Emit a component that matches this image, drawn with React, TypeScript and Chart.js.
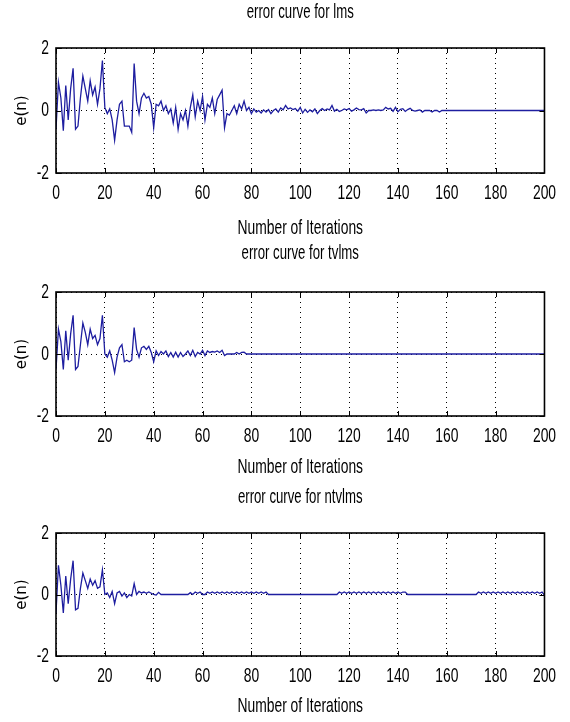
import React, { useEffect, useRef } from 'react';
import { Chart, registerables } from 'chart.js';

Chart.register(...registerables);

const iterations: number[] = Array.from({ length: 201 }, (_, i) => i);
const xTickValues = [0, 20, 40, 60, 80, 100, 120, 140, 160, 180, 200];
const yTickValues = [-2, 0, 2];

const titles = ['error curve for lms', 'error curve for tvlms', 'error curve for ntvlms'];
const xAxisLabel = 'Number of Iterations';
const yAxisLabel = 'e(n)';

const lmsError = [
  -0.6, 0.9, 0.4, -0.65, 0.8, -0.3, 0.7, 1.35, -0.6, -0.5,
  0.4, 1.1, 0.7, 0.3, 0.95, 0.5, 0.75, 0.2, 0.7, 1.6,
  0.1, -0.1, 0.05, -0.3, -0.95, -0.3, 0.2, 0.3, -0.5, -0.5,
  -0.5, -0.7, 1.5, 0.3, -0.1, 0.4, 0.55, 0.4, 0.45, 0.2,
  -0.55, 0.2, 0.15, 0.3, 0.0, 0.15, -0.1, 0.05, -0.4, 0.1,
  -0.6, -0.1, -0.3, 0.0, -0.5, 0.1, 0.5, -0.2, 0.3, 0.0,
  0.45, -0.3, 0.2, 0.1, 0.4, -0.1, 0.35, 0.5, 0.65, -0.55,
  -0.1, -0.15, 0.0, 0.15, -0.1, 0.2, 0.05, 0.3, 0.0, 0.1,
  -0.1, 0.05, -0.05, 0.0, -0.08, 0.02, -0.05, 0.03, -0.1, 0.0,
  0.05, -0.05, 0.08, 0.02, 0.16, 0.05, 0.08, 0.03, 0.06, -0.02,
  0.1, -0.08, 0.04, -0.06, 0.02, -0.04, 0.05, -0.1, 0.0, 0.06,
  0.0, 0.05, 0.02, 0.16, -0.02, 0.04, -0.03, 0.0, 0.05, 0.02,
  0.06, -0.02, 0.02, 0.08, 0.03, 0.02, 0.06, -0.08, 0.0, 0.0,
  0.02, 0.0, 0.02, 0.0, 0.02, 0.1, 0.05, 0.07, -0.03, 0.1,
  -0.04, 0.04, 0.06, -0.03, 0.03, 0.07, 0.0, -0.02, 0.0, 0.02,
  -0.05, 0.0, 0.0, 0.0, -0.05, 0.0, 0.0, -0.05, 0, 0,
  0, 0, 0, 0, 0, 0, 0, 0, 0, 0,
  0, 0, 0, 0, 0, 0, 0, 0, 0, 0,
  0, 0, 0, 0, 0, 0, 0, 0, 0, 0,
  0, 0, 0, 0, 0, 0, 0, 0, 0, 0,
  0,
];

const tvlmsError = [
  -0.5, 0.8, 0.4, -0.5, 0.75, -0.2, 0.65, 1.25, -0.5, -0.4,
  0.3, 1.0, 0.7, 0.3, 0.8, 0.5, 0.6, 0.3, 0.5, 1.25,
  0.0, -0.1, 0.1, -0.2, -0.6, -0.1, 0.2, 0.3, -0.25, -0.2,
  -0.25, -0.2, 0.85, 0.15, -0.1, 0.2, 0.25, 0.15, 0.25, 0.05,
  -0.25, 0.1, -0.05, 0.08, 0.0, 0.1, -0.08, 0.05, -0.1, 0.06,
  -0.1, 0.05, -0.08, 0.0, 0.1, -0.05, 0.12, -0.08, 0.05, 0.0,
  0.12, -0.05, 0.1, 0.05, 0.08, 0.06, 0.1, 0.05, 0.12, -0.05,
  0.0, 0.0, 0.0, 0.0, 0.05, 0.0, 0.05, 0.06, 0.0, 0,
  0, 0, 0, 0, 0, 0, 0, 0, 0, 0,
  0, 0, 0, 0, 0, 0, 0, 0, 0, 0,
  0, 0, 0, 0, 0, 0, 0, 0, 0, 0,
  0, 0, 0, 0, 0, 0, 0, 0, 0, 0,
  0, 0, 0, 0, 0, 0, 0, 0, 0, 0,
  0, 0, 0, 0, 0, 0, 0, 0, 0, 0,
  0, 0, 0, 0, 0, 0, 0, 0, 0, 0,
  0, 0, 0, 0, 0, 0, 0, 0, 0, 0,
  0, 0, 0, 0, 0, 0, 0, 0, 0, 0,
  0, 0, 0, 0, 0, 0, 0, 0, 0, 0,
  0, 0, 0, 0, 0, 0, 0, 0, 0, 0,
  0, 0, 0, 0, 0, 0, 0, 0, 0, 0,
  0,
];

const ntvlmsError = [
  -0.6, 0.95, 0.3, -0.6, 0.6, -0.3, 0.5, 1.1, -0.5, -0.45,
  0.2, 0.7, 0.45, 0.2, 0.5, 0.3, 0.45, 0.2, 0.25, 0.8,
  0.0, 0.05, -0.1, 0.1, -0.3, 0.05, 0.1, -0.05, 0.05, -0.1,
  0.0, -0.05, 0.35, 0.0, 0.1, 0.05, 0.08, 0.04, 0.08, 0.04,
  0.0, -0.02, 0.07, 0, 0, 0, 0, 0, 0, 0,
  0, 0, 0, 0, 0, 0.06, 0.0, 0.08, 0.04, 0.08,
  0.0, 0.0, 0.08, 0.04, 0.08, 0.04, 0.08, 0.04, 0.08, 0.04,
  0.08, 0.04, 0.08, 0.04, 0.08, 0.04, 0.08, 0.04, 0.08, 0.04,
  0.08, 0.04, 0.08, 0.04, 0.08, 0.04, 0.08, 0, 0, 0,
  0, 0, 0, 0, 0, 0, 0, 0, 0, 0,
  0, 0, 0, 0, 0, 0, 0, 0, 0, 0,
  0, 0, 0, 0, 0, 0, 0.08, 0.04, 0.08, 0.04,
  0.08, 0.04, 0.08, 0.04, 0.08, 0.04, 0.08, 0.04, 0.08, 0.04,
  0.08, 0.04, 0.08, 0.04, 0.08, 0.04, 0.08, 0.04, 0.08, 0.04,
  0.08, 0.04, 0.08, 0.08, 0, 0, 0, 0, 0, 0,
  0, 0, 0, 0, 0, 0, 0, 0, 0, 0,
  0, 0, 0, 0, 0, 0, 0, 0, 0, 0,
  0, 0, 0, 0.08, 0.04, 0.08, 0.04, 0.08, 0.04, 0.08,
  0.04, 0.08, 0.04, 0.08, 0.04, 0.08, 0.04, 0.08, 0.04, 0.08,
  0.04, 0.08, 0.04, 0.08, 0.04, 0.08, 0.04, 0.08, 0.04, 0.08,
  -0.02,
];

const seriesList = [lmsError, tvlmsError, ntvlmsError];

const FONT = "'Liberation Sans', Arial, sans-serif";
const TEXT_SQUEEZE = 0.66;
const LINE_COLOR = '#1e1ea0';

type Panel = { top: number; height: number; boxH: number; titleY: number; xLabelY: number };
const panels: Panel[] = [
  { top: 0, height: 240, boxH: 125, titleY: 12, xLabelY: 228 },
  { top: 244, height: 240, boxH: 124, titleY: 9, xLabelY: 223 },
  { top: 485, height: 237, boxH: 123, titleY: 12, xLabelY: 221 },
];
const BOX_TOP = 48;
const BOX_LEFT = 56;
const BOX_RIGHT = 548;

// Chart.js draws its own labels; this narrows the glyphs horizontally (MATLAB-style narrow text)
const narrowTextPlugin = {
  id: 'narrowText',
  beforeDraw(chart: any) {
    const ctx = chart.ctx as any;
    if (ctx.__narrowPatched) return;
    ctx.__narrowPatched = true;
    const orig = ctx.fillText.bind(ctx);
    ctx.fillText = (text: string, x: number, y: number, maxWidth?: number) => {
      if (!String(ctx.font).includes('Liberation')) {
        if (maxWidth === undefined) orig(text, x, y);
        else orig(text, x, y, maxWidth);
        return;
      }
      ctx.save();
      ctx.translate(x, y);
      ctx.scale(TEXT_SQUEEZE, 1);
      orig(text, 0, 0);
      ctx.restore();
    };
  },
};

const framePlugin = {
  id: 'frame',
  afterDatasetsDraw(chart: any) {
    const { ctx, chartArea: a, scales } = chart;
    ctx.save();
    ctx.strokeStyle = '#000';
    ctx.lineWidth = 1;
    ctx.beginPath();
    for (const v of xTickValues) {
      const px = Math.round(scales.x.getPixelForValue(v)) + 0.5;
      ctx.moveTo(px, a.top);
      ctx.lineTo(px, a.top + 5);
      ctx.moveTo(px, a.bottom);
      ctx.lineTo(px, a.bottom - 5);
    }
    for (const v of yTickValues) {
      const py = Math.round(scales.y.getPixelForValue(v)) + 0.5;
      ctx.moveTo(a.left, py);
      ctx.lineTo(a.left + 5, py);
      ctx.moveTo(a.right, py);
      ctx.lineTo(a.right - 5, py);
    }
    ctx.stroke();
    ctx.lineWidth = 1.6;
    ctx.strokeRect(a.left, a.top, a.right - a.left, a.bottom - a.top);
    ctx.restore();
  },
};

function ErrorPanel({ index }: { index: number }) {
  const ref = useRef<HTMLCanvasElement | null>(null);
  const p = panels[index];
  useEffect(() => {
    const canvas = ref.current;
    if (!canvas) return;
    const titleSize = 20;
    const titleLH = 16;
    const padTop = p.titleY - titleLH / 2;
    const xTitleLH = 21 * 1.2;
    const chart = new Chart(canvas, {
      type: 'line',
      data: {
        datasets: [
          {
            data: iterations.map((n, i) => ({ x: n, y: seriesList[index][i] })),
            borderColor: LINE_COLOR,
            borderWidth: 1.3,
            pointRadius: 0,
            tension: 0,
            fill: false,
          },
        ],
      },
      options: {
        animation: false,
        responsive: false,
        devicePixelRatio: 1,
        layout: { padding: { left: 0, right: 570 - BOX_RIGHT, top: 0, bottom: 0 } },
        plugins: {
          legend: { display: false },
          tooltip: { enabled: false },
          title: {
            display: true,
            text: titles[index],
            fullSize: false,
            color: '#000',
            font: { family: FONT, size: titleSize, weight: 'normal', lineHeight: titleLH / titleSize },
            padding: { top: padTop, bottom: BOX_TOP - titleLH - padTop },
          },
        },
        scales: {
          x: {
            type: 'linear',
            min: 0,
            max: 200,
            afterBuildTicks: (scale: any) => {
              scale.ticks = xTickValues.map((v) => ({ value: v }));
            },
            afterFit: (scale: any) => {
              scale.height = p.height - BOX_TOP - p.boxH;
            },
            ticks: {
              color: '#000',
              padding: 8,
              maxRotation: 0,
              autoSkip: false,
              font: { family: FONT, size: 21, lineHeight: 1.2 },
            },
            grid: { color: '#000', lineWidth: 1, drawTicks: false },
            border: { display: false, dash: [1, 4] },
            title: {
              display: true,
              text: xAxisLabel,
              color: '#000',
              font: { family: FONT, size: 21, lineHeight: 1.2 },
              padding: { top: 0, bottom: p.height - p.xLabelY - xTitleLH / 2 },
            },
          },
          y: {
            type: 'linear',
            min: -2,
            max: 2,
            afterBuildTicks: (scale: any) => {
              scale.ticks = yTickValues.map((v) => ({ value: v }));
            },
            afterFit: (scale: any) => {
              scale.width = BOX_LEFT;
            },
            ticks: {
              color: '#000',
              padding: 7,
              font: { family: FONT, size: 21, lineHeight: 1.2 },
            },
            grid: { color: '#000', lineWidth: 1, drawTicks: false },
            border: { display: false, dash: [1, 4] },
            title: {
              display: true,
              text: yAxisLabel,
              color: '#000',
              font: { family: "'DejaVu Sans', sans-serif", size: 15, lineHeight: 1.2 },
              padding: { top: 13, bottom: 0 },
            },
          },
        },
      },
      plugins: [narrowTextPlugin, framePlugin],
    } as any);
    return () => chart.destroy();
  }, [index]);
  return (
    <canvas
      ref={ref}
      width={570}
      height={p.height}
      style={{ position: 'absolute', left: 0, top: p.top, width: 570, height: p.height, display: 'block' }}
    />
  );
}

export default function App() {
  return (
    <div style={{ position: 'absolute', left: 0, top: 0, width: 570, height: 722, background: '#fff', overflow: 'hidden' }}>
      <ErrorPanel index={0} />
      <ErrorPanel index={1} />
      <ErrorPanel index={2} />
    </div>
  );
}
